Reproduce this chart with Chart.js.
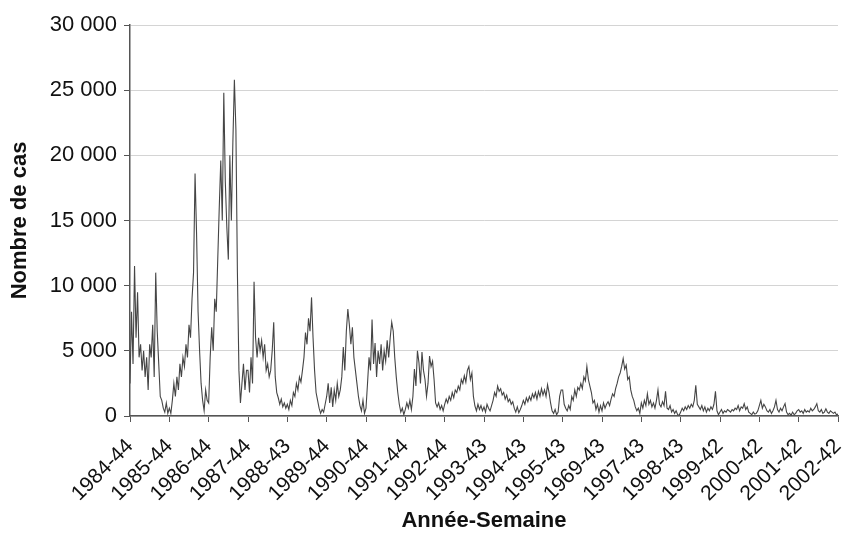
<!DOCTYPE html>
<html>
<head>
<meta charset="utf-8">
<script src="https://cdn.jsdelivr.net/npm/chart.js@4.4.1/dist/chart.umd.min.js"></script>
<style>
  body { margin: 0; background: #fff; }
  #wrap { width: 845px; height: 537px; }
</style>
</head>
<body>
<div id="wrap"><canvas id="mycanvas"></canvas></div>
<script>
// tick labels, one per year (52 weeks apart), as printed on the original
var tickLabels = ['1984-44','1985-44','1986-44','1987-44','1988-43','1989-44','1990-44',
	'1991-44','1992-44','1993-43','1994-43','1995-43','1969-43','1997-43','1998-43',
	'1999-42','2000-42','2001-42','2002-42'];

// cases, one reading every 2 weeks, one array per season
var s1984 = [2500,8000,4000,11500,6000,9500,4500,5500,3500,5000,3000,4500,2000,5500,4500,7000,3000,11000,6500,4000,1500,1200,600,300,1000,200];
var s1985 = [600,200,1200,2500,1500,3000,2000,4000,3000,4500,3800,5500,4500,7000,6000,9000,11000,18600,14000,8000,5000,2500,1200,400,2000,1200];
var s1986 = [1000,4500,6800,5000,9000,8000,12000,16000,19600,15000,24800,18000,14500,12000,20000,15000,21000,25800,22000,11000,3500,1000,2500,4000,2000,3500];
var s1987 = [3500,1800,4500,2500,10300,6000,4500,6000,5000,5800,4500,5500,3500,4000,3000,3500,5000,7200,3000,1800,1400,900,1300,700,1000,600];
var s1988 = [900,500,1200,800,1800,1500,2500,2000,3000,2600,3500,4500,6400,5500,7500,6500,9100,6000,3500,1800,1200,600,200,500,300,900];
var s1989 = [1500,2500,1000,2200,700,2000,1200,2500,1500,2000,3000,5300,3500,6500,8200,7000,5500,6800,4500,3500,2500,1500,800,400,1200,200];
var s1990 = [600,2500,4500,3500,7400,4000,5600,3000,5000,4000,5500,3500,5000,4200,5800,4500,6000,7200,6500,4500,3000,1800,900,300,600,100];
var s1991 = [500,1000,600,1200,500,1500,3600,2300,5000,4100,2500,4900,3500,2800,1500,2500,4600,3800,4200,2800,1000,700,1000,500,800,400];
var s1992 = [900,1300,1000,1500,1200,1800,1400,2000,1800,2300,2000,2800,2500,3100,2600,3500,3800,2800,3300,1500,770,400,900,500,800,400];
var s1993 = [700,300,900,600,400,800,1200,1800,1500,2300,1900,2100,1600,1800,1300,1600,1100,1300,900,1100,600,300,700,250,500,800];
var s1994 = [1200,900,1400,1100,1500,1200,1700,1400,1800,1300,1900,1500,2100,1600,2000,1500,2400,1800,1000,400,200,500,100,300,1500,2000];
var s1995 = [2000,900,600,400,800,500,1500,1200,2000,1500,2200,2000,2500,2100,3000,2700,3800,2800,2300,1800,1000,1200,500,900,300,800];
var s1996 = [400,1000,600,900,1100,800,1300,1700,1500,2100,2500,3000,3300,3800,4400,3600,3900,2800,3000,2000,1500,1200,700,400,600,200];
var s1997 = [1000,600,1200,800,1700,900,1200,700,1000,600,1200,2000,900,700,1100,800,1900,600,500,800,300,500,200,400,100,50];
var s1998 = [300,600,400,700,500,800,600,900,700,1200,2350,900,700,500,800,400,700,300,600,400,700,500,900,1900,400,100];
var s1999 = [300,500,200,400,300,500,400,300,500,400,600,500,800,400,700,600,950,500,700,300,200,100,300,150,200,400];
var s2000 = [800,1200,600,900,700,400,300,500,200,400,700,1200,500,300,600,400,700,950,300,100,200,50,300,100,200,400];
var s2001 = [500,300,400,200,500,300,400,300,600,400,500,700,950,400,300,500,200,300,550,300,200,400,300,200,300,100,150];

var weekStep = 2;
var cases = [].concat(s1984, s1985, s1986, s1987, s1988, s1989, s1990, s1991, s1992,
	s1993, s1994, s1995, s1996, s1997, s1998, s1999, s2000, s2001);

var points = [];
for (var i in cases) {
	points.push({x: i * weekStep, y: cases[i]});
}

function spaced(v) {
	return String(v).replace(/\B(?=(\d{3})+(?!\d))/g, ' ');
}

var ctx = document.getElementById('mycanvas');

var LineGraph = new Chart(ctx, {
	type: 'line',
	data: {
		datasets: [{
			label: 'Nombre de cas',
			data: points,
			borderColor: '#454545',
			borderWidth: 1.1,
			pointRadius: 0,
			tension: 0,
			fill: false
		}]
	},
	options: {
		responsive: true,
		maintainAspectRatio: false,
		animation: false,
		events: [],
		layout: { padding: { top: 25, right: 7, left: 0, bottom: 0 } },
		plugins: { legend: { display: false }, tooltip: { enabled: false } },
		scales: {
			x: {
				type: 'linear',
				min: 0,
				max: 936,
				grid: { drawOnChartArea: false, tickLength: 6, color: '#555' },
				border: { color: '#555', width: 1.5 },
				ticks: {
					stepSize: 52,
					autoSkip: false,
					minRotation: 45,
					maxRotation: 45,
					padding: 12,
					color: '#111',
					font: { family: 'Liberation Sans', size: 21 },
					callback: function(v) { return tickLabels[v / 52]; }
				},
				title: {
					display: true,
					text: 'Année-Semaine',
					color: '#111',
					padding: { top: 0, bottom: 3 },
					font: { family: 'Liberation Sans', size: 22, weight: 'bold' }
				},
				afterFit: function(s) { s.height = 121; s.paddingLeft = 0; s.paddingRight = 0; }
			},
			y: {
				min: 0,
				max: 30000,
				grid: { color: '#d4d4d4', tickColor: '#555', tickLength: 6 },
				border: { color: '#555', width: 1.5 },
				ticks: {
					stepSize: 5000,
					padding: 7,
					color: '#111',
					font: { family: 'Liberation Sans', size: 22 },
					callback: function(v) { return spaced(v); }
				},
				title: {
					display: true,
					text: 'Nombre de cas',
					color: '#111',
					padding: { top: 7, bottom: 0 },
					font: { family: 'Liberation Sans', size: 22, weight: 'bold' }
				},
				afterFit: function(s) { s.width = 130; s.paddingTop = 0; s.paddingBottom = 0; }
			}
		}
	}
});
</script>
</body>
</html>
